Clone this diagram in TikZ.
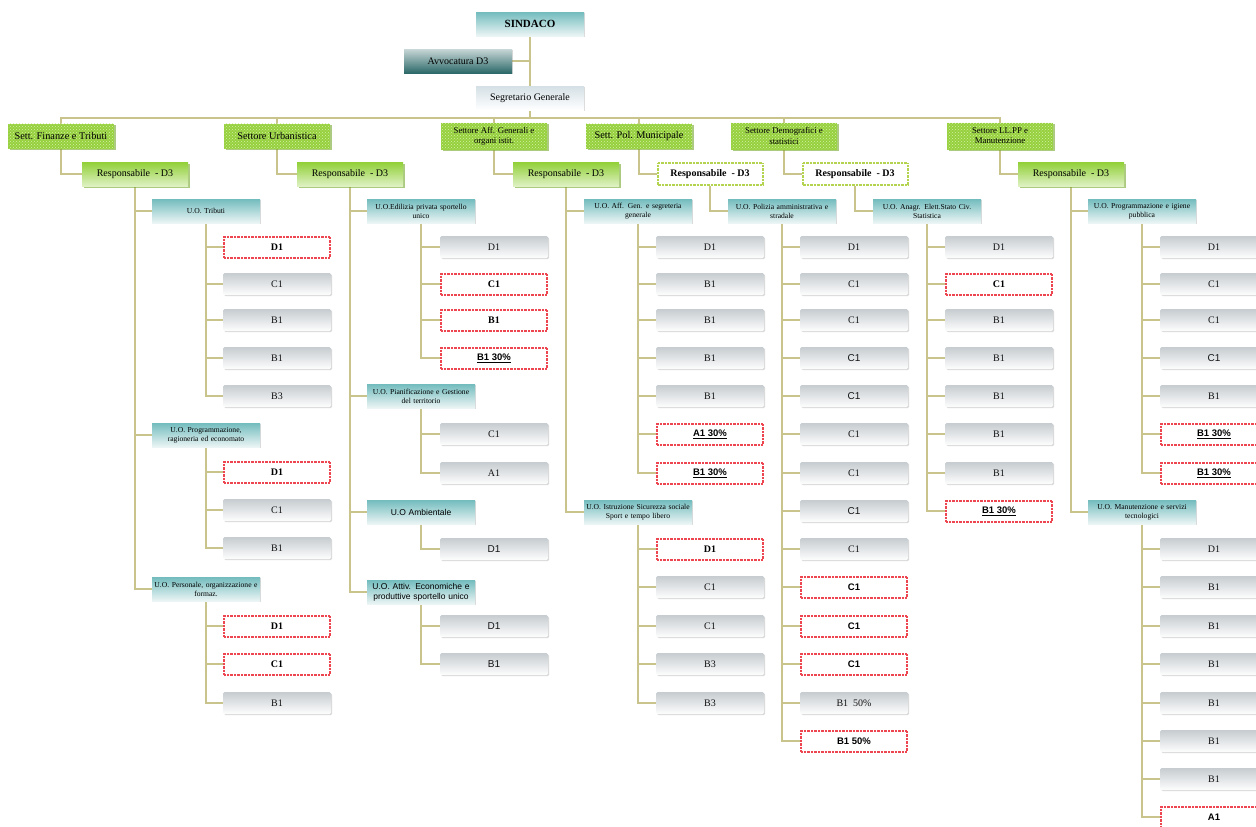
\documentclass[tikz,border=0pt]{standalone}
\usepackage{fontspec}
\setmainfont{Liberation Serif}
\setsansfont{Liberation Sans}
\usetikzlibrary{shadows,patterns,backgrounds}
\definecolor{lineC}{RGB}{200,196,140}
\definecolor{tealT}{RGB}{115,188,190}
\definecolor{tealB}{RGB}{236,245,245}
\definecolor{leafT}{RGB}{198,204,208}
\definecolor{secG}{RGB}{150,208,62}
\definecolor{secL}{RGB}{212,240,165}
\definecolor{respG}{RGB}{145,208,55}
\definecolor{redD}{RGB}{238,70,80}
\definecolor{grnD}{RGB}{180,212,80}
\definecolor{avvT}{RGB}{200,215,215}
\definecolor{avvB}{RGB}{45,105,105}
\definecolor{segT}{RGB}{212,224,230}
\definecolor{txtC}{RGB}{20,20,20}
\tikzset{
  conn/.style={draw=lineC, line width=2.4pt},
  shad/.style={drop shadow={shadow xshift=1.2pt, shadow yshift=-1.2pt, opacity=.3}},
  boxbase/.style={rectangle, inner sep=1pt, align=center, text=txtC},
  leaf/.style={boxbase, rounded corners=1.5pt, minimum width=108pt, minimum height=22pt,
    top color=leafT, bottom color=white!97!leafT, shad, font=\fontsize{10}{11}\selectfont},
  leafs/.style={leaf, font=\sffamily\fontsize{10}{11}\selectfont},
  rleaf/.style={boxbase, minimum width=106pt, minimum height=21pt, fill=white,
    draw=redD, line width=2pt, dash pattern=on 0.7pt off 0.7pt,
    font=\bfseries\fontsize{10}{11}\selectfont, text=black},
  rleafs/.style={rleaf, font=\sffamily\bfseries\fontsize{9.5}{11}\selectfont},
  uo/.style={boxbase, minimum width=108pt, minimum height=24pt, text width=106pt,
    top color=tealT, bottom color=tealB, shad, font=\fontsize{7.6}{9}\selectfont, text=black},
  uos/.style={uo, font=\sffamily\fontsize{8.5}{10}\selectfont},
  sector/.style={boxbase, minimum width=106pt, minimum height=25pt, fill=secG,
    postaction={pattern=crosshatch dots, pattern color=secL},
    drop shadow={shadow xshift=1.5pt, shadow yshift=-1.5pt, fill=respG!80!black, opacity=.6},
    font=\fontsize{10.3}{11}\selectfont, text=black},
  sector2/.style={sector, minimum height=27pt, font=\fontsize{8.8}{10.2}\selectfont},
  resp/.style={boxbase, minimum width=106pt, minimum height=24pt,
    top color=respG, middle color=white!85!respG, bottom color=white!70!respG,
    drop shadow={shadow xshift=1.5pt, shadow yshift=-1.5pt, fill=respG!80!black, opacity=.6},
    font=\fontsize{10}{11}\selectfont, text=black},
  respd/.style={boxbase, minimum width=105pt, minimum height=22pt, fill=white,
    draw=grnD, line width=2pt, dash pattern=on 0.7pt off 0.7pt,
    font=\bfseries\fontsize{10}{11}\selectfont, text=black},
  topbox/.style={boxbase, minimum width=108pt, minimum height=24pt, shad, text=black},
}
\newcommand{\leafnode}[6]{%
  \node[#4] (#1) at (#2,#3) {#5};
  \begin{scope}[on background layer]\draw[conn] (#6.south) |- (#1.west);\end{scope}}
\newcommand{\uonode}[6]{%
  \node[#4] (#1) at (#2,#3) {#5};
  \begin{scope}[on background layer]\draw[conn] (#6.south) |- (#1.west);\end{scope}}
\begin{document}
\begin{tikzpicture}[x=1pt,y=-1pt]
\useasboundingbox (0,0) rectangle (1256,827);
\clip (0,0) rectangle (1256,827);
% top
\node[topbox, top color=tealT, bottom color=tealB, font=\bfseries\fontsize{11}{12}\selectfont] (sind) at (530,24) {SINDACO};
\node[topbox, top color=avvT, bottom color=avvB, font=\fontsize{10}{11}\selectfont] (avv) at (458,61) {Avvocatura D3};
\node[topbox, top color=segT, bottom color=white, font=\fontsize{10}{11}\selectfont] (seg) at (530,98) {Segretario Generale};
\coordinate (bus) at (530,118);
% sectors
\node[sector] (s1) at (61,136) {Sett. Finanze e Tributi};
\node[sector] (s2) at (277,136) {Settore Urbanistica};
\node[sector2] (s3) at (494,136) {Settore Aff. Generali e\\organi istit.};
\node[sector] (s4) at (639,136) {Sett. Pol. Municipale};
\node[sector2] (s5) at (784,136) {Settore Demografici e\\statistici};
\node[sector2] (s6) at (1000,136) {Settore LL.PP e\\Manutenzione};
% responsabili
\node[resp] (r1) at (135,174) {Responsabile\ \ -\ D3};
\node[resp] (r2) at (350,174) {Responsabile\ \ -\ D3};
\node[resp] (r3) at (566,174) {Responsabile\ \ -\ D3};
\node[respd] (r4) at (710,174) {Responsabile\ \ -\ D3};
\node[respd] (r5) at (855,174) {Responsabile\ \ -\ D3};
\node[resp] (r6) at (1071,174) {Responsabile\ \ -\ D3};
\begin{scope}[on background layer]
\draw[conn] (avv.east) -| (sind.south);
\draw[conn] (sind.south) -- (seg.north);
\draw[conn] (seg.south) -- (bus);
\foreach \s in {s1,s2,s3,s4,s5,s6} {\draw[conn] (\s.center) |- (bus);}
\draw[conn] (s1.center) |- (r1.west);
\draw[conn] (s2.center) |- (r2.west);
\draw[conn] (s3.center) |- (r3.west);
\draw[conn] (s4.center) |- (r4.west);
\draw[conn] (s5.center) |- (r5.west);
\draw[conn] (s6.center) |- (r6.west);
\end{scope}
% U.O.
\uonode{u11}{206}{211}{uo}{U.O. Tributi}{r1}
\uonode{u12}{206}{435}{uo}{U.O. Programmazione,\\ragioneria ed economato}{r1}
\uonode{u13}{206}{589}{uo}{U.O. Personale, organizzazione e\\formaz.}{r1}
\uonode{u21}{421}{211}{uo}{U.O.Edilizia privata sportello\\unico}{r2}
\uonode{u22}{421}{396}{uo}{U.O. Pianificazione e Gestione\\del territorio}{r2}
\uonode{u23}{421}{512}{uos}{U.O Ambientale}{r2}
\uonode{u24}{421}{592}{uos}{U.O. Attiv. Economiche e\\produttive sportello unico}{r2}
\uonode{u31}{638}{211}{uo}{U.O. Aff. Gen. e segreteria\\generale}{r3}
\uonode{u32}{638}{512}{uo}{U.O. Istruzione Sicurezza sociale\\Sport e tempo libero}{r3}
\uonode{u4}{782}{211}{uo}{U.O. Polizia amministrativa e\\stradale}{r4}
\uonode{u5}{927}{211}{uo}{U.O. Anagr. Elett.Stato Civ.\\Statistica}{r5}
\uonode{u61}{1142}{211}{uo}{U.O. Programmazione e igiene\\pubblica}{r6}
\uonode{u62}{1142}{512}{uo}{U.O. Manutenzione e servizi\\tecnologici}{r6}
% column 1
\leafnode{a1}{277}{247}{rleaf}{D1}{u11}
\leafnode{a2}{277}{284}{leaf}{C1}{u11}
\leafnode{a3}{277}{320}{leaf}{B1}{u11}
\leafnode{a4}{277}{358}{leaf}{B1}{u11}
\leafnode{a5}{277}{396}{leaf}{B3}{u11}
\leafnode{a6}{277}{472}{rleaf}{D1}{u12}
\leafnode{a7}{277}{510}{leaf}{C1}{u12}
\leafnode{a8}{277}{548}{leaf}{B1}{u12}
\leafnode{a9}{277}{626}{rleaf}{D1}{u13}
\leafnode{a10}{277}{664}{rleaf}{C1}{u13}
\leafnode{a11}{277}{703}{leaf}{B1}{u13}
% column 2
\leafnode{b1}{494}{247}{leaf}{D1}{u21}
\leafnode{b2}{494}{284}{rleaf}{C1}{u21}
\leafnode{b3}{494}{320}{rleaf}{B1}{u21}
\leafnode{b4}{494}{358}{rleafs}{\underline{B1 30\%}}{u21}
\leafnode{b5}{494}{434}{leaf}{C1}{u22}
\leafnode{b6}{494}{473}{leaf}{A1}{u22}
\leafnode{b7}{494}{549}{leafs}{D1}{u23}
\leafnode{b8}{494}{626}{leafs}{D1}{u24}
\leafnode{b9}{494}{664}{leafs}{B1}{u24}
% column 3
\leafnode{c1}{710}{247}{leaf}{D1}{u31}
\leafnode{c2}{710}{284}{leaf}{B1}{u31}
\leafnode{c3}{710}{320}{leaf}{B1}{u31}
\leafnode{c4}{710}{358}{leaf}{B1}{u31}
\leafnode{c5}{710}{396}{leaf}{B1}{u31}
\leafnode{c6}{710}{434}{rleafs}{\underline{A1 30\%}}{u31}
\leafnode{c7}{710}{473}{rleafs}{\underline{B1 30\%}}{u31}
\leafnode{c8}{710}{549}{rleaf}{D1}{u32}
\leafnode{c9}{710}{587}{leaf}{C1}{u32}
\leafnode{c10}{710}{626}{leaf}{C1}{u32}
\leafnode{c11}{710}{664}{leaf}{B3}{u32}
\leafnode{c12}{710}{703}{leaf}{B3}{u32}
% column 4
\leafnode{d1}{854}{247}{leaf}{D1}{u4}
\leafnode{d2}{854}{284}{leaf}{C1}{u4}
\leafnode{d3}{854}{320}{leaf}{C1}{u4}
\leafnode{d4}{854}{358}{leafs}{C1}{u4}
\leafnode{d5}{854}{396}{leafs}{C1}{u4}
\leafnode{d6}{854}{434}{leaf}{C1}{u4}
\leafnode{d7}{854}{473}{leaf}{C1}{u4}
\leafnode{d8}{854}{511}{leafs}{C1}{u4}
\leafnode{d9}{854}{549}{leaf}{C1}{u4}
\leafnode{d10}{854}{587}{rleafs}{C1}{u4}
\leafnode{d11}{854}{626}{rleafs}{C1}{u4}
\leafnode{d12}{854}{664}{rleafs}{C1}{u4}
\leafnode{d13}{854}{703}{leaf}{B1\ \ 50\%}{u4}
\leafnode{d14}{854}{741}{rleafs}{B1 50\%}{u4}
% column 5
\leafnode{e1}{999}{247}{leaf}{D1}{u5}
\leafnode{e2}{999}{284}{rleaf}{C1}{u5}
\leafnode{e3}{999}{320}{leaf}{B1}{u5}
\leafnode{e4}{999}{358}{leaf}{B1}{u5}
\leafnode{e5}{999}{396}{leaf}{B1}{u5}
\leafnode{e6}{999}{434}{leaf}{B1}{u5}
\leafnode{e7}{999}{473}{leaf}{B1}{u5}
\leafnode{e8}{999}{511}{rleafs}{\underline{B1 30\%}}{u5}
% column 6
\leafnode{f1}{1214}{247}{leaf}{D1}{u61}
\leafnode{f2}{1214}{284}{leaf}{C1}{u61}
\leafnode{f3}{1214}{320}{leaf}{C1}{u61}
\leafnode{f4}{1214}{358}{leafs}{C1}{u61}
\leafnode{f5}{1214}{396}{leaf}{B1}{u61}
\leafnode{f6}{1214}{434}{rleafs}{\underline{B1 30\%}}{u61}
\leafnode{f7}{1214}{473}{rleafs}{\underline{B1 30\%}}{u61}
\leafnode{f8}{1214}{549}{leaf}{D1}{u62}
\leafnode{f9}{1214}{587}{leaf}{B1}{u62}
\leafnode{f10}{1214}{626}{leaf}{B1}{u62}
\leafnode{f11}{1214}{664}{leaf}{B1}{u62}
\leafnode{f12}{1214}{703}{leaf}{B1}{u62}
\leafnode{f13}{1214}{741}{leaf}{B1}{u62}
\leafnode{f14}{1214}{779}{leaf}{B1}{u62}
\leafnode{f15}{1214}{817}{rleafs}{A1}{u62}
\end{tikzpicture}
\end{document}
